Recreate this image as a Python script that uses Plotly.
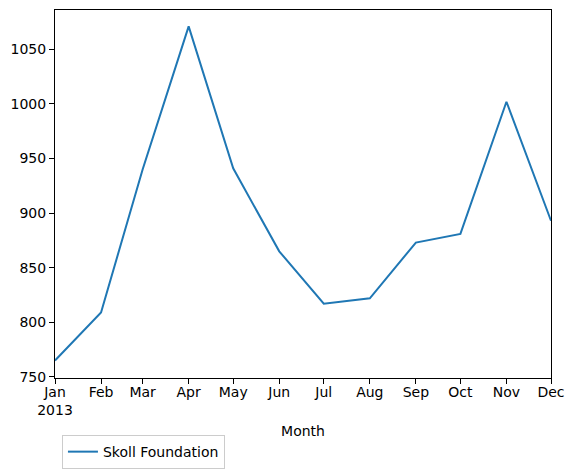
import plotly.graph_objects as go

# monthly totals
months = ["2013-01-01", "2013-02-01", "2013-03-01", "2013-04-01", "2013-05-01", "2013-06-01",
          "2013-07-01", "2013-08-01", "2013-09-01", "2013-10-01", "2013-11-01", "2013-12-01"]
values = [765, 809, 940, 1071, 941, 865, 817, 822, 873, 881, 1002, 893]
tick_labels = ["Jan<br>2013", "Feb", "Mar", "Apr", "May", "Jun",
               "Jul", "Aug", "Sep", "Oct", "Nov", "Dec"]
y_ticks = [750, 800, 850, 900, 950, 1000, 1050]
series_name = "Skoll Foundation"

fig = go.Figure()
fig.add_trace(go.Scatter(x=months, y=values, mode="lines", name=series_name,
                         line=dict(color="#1f77b4", width=2)))

axis_style = dict(showline=True, linecolor="black", linewidth=1, mirror=True,
                  ticks="outside", ticklen=5, tickcolor="black", showgrid=False,
                  zeroline=False, automargin=False,
                  tickfont=dict(size=14, color="black"))

# page body adds an 8px margin, so the figure is a bit smaller than the window
fig.update_layout(
    width=566, height=465,
    margin=dict(l=47, r=23, t=2, b=95, autoexpand=False),
    plot_bgcolor="white", paper_bgcolor="white",
    font=dict(family="DejaVu Sans", size=14, color="black"),
    showlegend=True,
    legend=dict(x=0.014, y=-0.155, xanchor="left", yanchor="top",
                bordercolor="#cccccc", borderwidth=1, font=dict(size=14)),
    xaxis=dict(axis_style, range=[months[0], months[-1]], tickvals=months,
               ticktext=tick_labels, ticklabelstandoff=-4,
               title=dict(text="Month", standoff=9, font=dict(size=14))),
    yaxis=dict(axis_style, range=[749, 1086], tickvals=y_ticks),
)

fig.write_html("out.html")
